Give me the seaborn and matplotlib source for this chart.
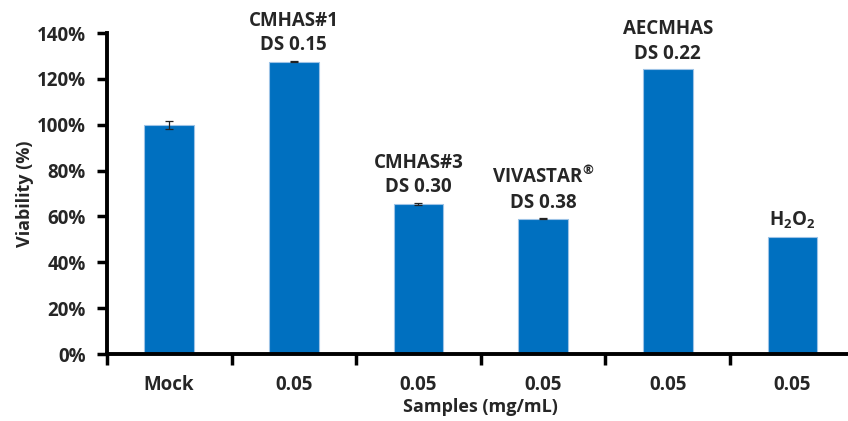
import matplotlib
matplotlib.use("Agg")
import matplotlib.pyplot as plt
from matplotlib.ticker import PercentFormatter
import numpy as np
import pandas as pd
import seaborn as sns

# Viability of cells after exposure to each sample
samples = ["Mock", "CMHAS#1", "CMHAS#3", "VIVASTAR", "AECMHAS", "H2O2"]
tick_labels = ["Mock", "0.05", "0.05", "0.05", "0.05", "0.05"]
viability = [100.0, 127.5, 65.5, 59.0, 124.2, 51.2]
errors = [1.7, 0.3, 0.4, 0.2, 0.0, 0.0]
bar_labels = ["", "CMHAS#1\nDS 0.15", "CMHAS#3\nDS 0.30",
              "VIVASTAR$^{®}$\nDS 0.38", "AECMHAS\nDS 0.22", "H$_{2}$O$_{2}$"]

sns.set_style("white")
plt.rcParams["font.family"] = ["Open Sans", "DejaVu Sans"]
plt.rcParams["mathtext.fontset"] = "custom"
plt.rcParams["mathtext.rm"] = "Open Sans:bold"
plt.rcParams["mathtext.bf"] = "Open Sans:bold"
plt.rcParams["mathtext.default"] = "bf"

FS = 13.5

df = pd.DataFrame({"sample": samples, "viability": viability})

fig = plt.figure(figsize=(8.48, 4.21), dpi=100)
ax = fig.add_axes([0.126, 0.159, 0.882, 0.7625])

sns.barplot(data=df, x="sample", y="viability", color="#0070C0",
            width=0.4, edgecolor="#9DC3E6", linewidth=0.8,
            saturation=1, errorbar=None, ax=ax)

xs = np.arange(len(samples))
err_x = [x for x, e in zip(xs, errors) if e > 0]
err_y = [v for v, e in zip(viability, errors) if e > 0]
err_e = [e for e in errors if e > 0]
ax.errorbar(err_x, err_y, yerr=err_e, fmt="none", ecolor="#222222",
            elinewidth=0.9, capsize=3, capthick=0.9)

for x, v, e, lab in zip(xs, viability, errors, bar_labels):
    if lab:
        ax.annotate(lab, (x, v + e), xytext=(0, 4), textcoords="offset points",
                    ha="center", va="bottom", fontsize=FS, fontweight="bold",
                    linespacing=1.3, annotation_clip=False)

ax.set_xlim(-0.5, len(samples) - 0.5)
ax.set_ylim(0, 140)
ax.set_yticks(np.arange(0, 141, 20))
ax.yaxis.set_major_formatter(PercentFormatter(decimals=0))

ax.set_xticks(xs)
ax.set_xticklabels(tick_labels)
ax.set_xticks(np.arange(-0.5, len(samples) + 0.5, 1.0), minor=True)
ax.tick_params(axis="x", which="major", length=0, pad=15, labelsize=FS)
ax.tick_params(axis="x", which="minor", length=8, width=2.5, direction="out",
               color="black", bottom=True)
ax.tick_params(axis="y", length=7, width=2.5, direction="out", color="black",
               left=True, labelsize=FS, pad=8)
for t in ax.get_xticklabels() + ax.get_yticklabels():
    t.set_fontweight("bold")

for side in ["top", "right"]:
    ax.spines[side].set_visible(False)
for side in ["left", "bottom"]:
    ax.spines[side].set_linewidth(2.8)
    ax.spines[side].set_color("black")

ax.set_xlabel("Samples (mg/mL)", fontsize=13, fontweight="bold", labelpad=2)
ax.set_ylabel("Viability (%)", fontsize=13, fontweight="bold", labelpad=2)

fig.savefig("out.png", dpi=100)
